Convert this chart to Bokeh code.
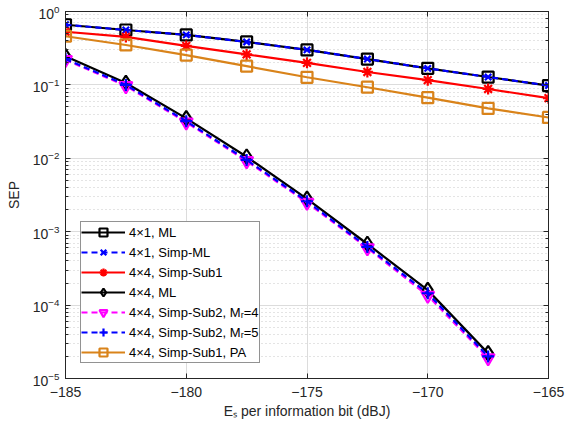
from bokeh.plotting import figure
from bokeh.models import (FixedTicker, LinearAxis, LogAxis, Legend, LogTicker,
                          CustomJSTickFormatter)
from bokeh.embed import file_html
from bokeh.resources import INLINE

# Es per information bit (dBJ)
x_full = [-185, -182.5, -180, -177.5, -175, -172.5, -170, -167.5, -165]
x_short = [-185, -182.5, -180, -177.5, -175, -172.5, -170, -167.5]

sep_41_ml = [0.66, 0.56, 0.48, 0.385, 0.30, 0.225, 0.168, 0.128, 0.098]
sep_41_simp_ml = [0.66, 0.56, 0.48, 0.385, 0.30, 0.225, 0.168, 0.128, 0.098]
sep_44_sub1 = [0.53, 0.45, 0.34, 0.26, 0.20, 0.15, 0.116, 0.088, 0.066]
sep_44_ml = [0.245, 0.106, 0.035, 0.0105, 0.0028, 0.00068, 0.00016, 0.000022]
sep_44_sub2_mr4 = [0.22, 0.097, 0.031, 0.0092, 0.0025, 0.00060, 0.000135, 0.000019]
sep_44_sub2_mr5 = [0.225, 0.10, 0.032, 0.0095, 0.0026, 0.00062, 0.000145, 0.000020]
sep_44_sub1_pa = [0.46, 0.35, 0.255, 0.18, 0.127, 0.093, 0.067, 0.048, 0.036]

labels = ["4\u00d71, ML", "4\u00d71, Simp-ML", "4\u00d74, Simp-Sub1", "4\u00d74, ML",
          "4\u00d74, Simp-Sub2, M\u1d63=4", "4\u00d74, Simp-Sub2, M\u1d63=5",
          "4\u00d74, Simp-Sub1, PA"]
x_ticks = [-185, -180, -175, -170, -165]

FONT = "Liberation Sans"
ORANGE = "#D9831A"
AX = "#262626"

p = figure(width=570, height=428, x_range=(-185, -165), y_range=(1e-5, 1),
           y_axis_type="log", output_backend="svg", toolbar_location=None,
           min_border_left=65, min_border_right=22, min_border_top=11,
           min_border_bottom=50, background_fill_color="white",
           border_fill_color="white")

p.outline_line_color = AX
p.outline_line_width = 1

# grids
p.xgrid.grid_line_color = "#dcdcdc"
p.ygrid.grid_line_color = "#dcdcdc"
p.ygrid.minor_grid_line_color = "#c8c8c8"
p.ygrid.minor_grid_line_dash = "1 3"
p.xaxis.ticker = FixedTicker(ticks=x_ticks, minor_ticks=[])

for ax in p.xaxis + p.yaxis:
    ax.major_tick_in = 5
    ax.major_tick_out = 0
    ax.minor_tick_in = 3
    ax.minor_tick_out = 0
    ax.axis_line_color = AX
    ax.major_tick_line_color = AX
    ax.minor_tick_line_color = AX
    ax.major_label_text_font = FONT
    ax.major_label_text_font_size = "14px"
    ax.major_label_text_color = AX
    ax.axis_label_text_font = FONT
    ax.axis_label_text_font_size = "14px"
    ax.axis_label_text_font_style = "normal"
    ax.axis_label_text_color = AX

p.xaxis.major_label_standoff = 8
p.yaxis.major_label_standoff = 6
p.xaxis.axis_label = "E\u209b per information bit (dBJ)"
p.xaxis.axis_label_standoff = 3
p.yaxis.axis_label = "SEP"
p.yaxis.axis_label_standoff = 8

# box axes (top/right) with ticks only
blank = CustomJSTickFormatter(code="return ''")
top = LinearAxis(ticker=FixedTicker(ticks=x_ticks, minor_ticks=[]), formatter=blank,
                 major_label_standoff=0, major_label_text_font_size="1px",
                 major_tick_in=5, major_tick_out=0,
                 minor_tick_in=0, minor_tick_out=0, axis_line_color=AX,
                 major_tick_line_color=AX)
right = LogAxis(ticker=LogTicker(), formatter=blank, major_label_standoff=0,
                major_label_text_font_size="1px",
                major_tick_in=5, major_tick_out=0, minor_tick_in=3, minor_tick_out=0,
                axis_line_color=AX, major_tick_line_color=AX,
                minor_tick_line_color=AX)
p.add_layout(top, "above")
p.add_layout(right, "right")

LW = 2.2
items = []

def series(xs, ys, color, dash, marker, size, label, fill=None):
    r1 = p.line(xs, ys, line_color=color, line_width=LW, line_dash=dash)
    r2 = p.scatter(xs, ys, marker=marker, size=size, line_color=color,
                   fill_color=fill, line_width=LW)
    items.append((label, [r1, r2]))

series(x_full, sep_41_ml, "black", "solid", "square", 11, labels[0])
series(x_full, sep_41_simp_ml, "blue", "6 4", "x", 9, labels[1])
series(x_full, sep_44_sub1, "red", "solid", "asterisk", 11, labels[2])
series(x_short, sep_44_ml, "black", "solid", "diamond", 15, labels[3])
series(x_short, sep_44_sub2_mr4, "magenta", "6 4", "inverted_triangle", 13, labels[4])
series(x_short, sep_44_sub2_mr5, "blue", "6 4", "cross", 12, labels[5])
series(x_full, sep_44_sub1_pa, ORANGE, "solid", "square", 11, labels[6])

legend = Legend(items=items, location=(15, 15), glyph_width=44, glyph_height=20,
                spacing=0, padding=0, margin=0, label_text_font=FONT,
                label_text_font_size="13px", label_text_color="black",
                label_standoff=4, label_height=20, border_line_color=AX,
                border_line_width=1, background_fill_alpha=1)
p.add_layout(legend, "center")

open("out.html", "w").write(file_html(p, INLINE))
